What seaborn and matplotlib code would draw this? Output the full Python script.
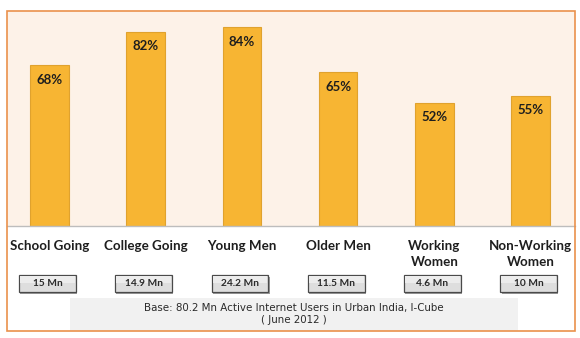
import matplotlib
matplotlib.use("Agg")
import matplotlib.pyplot as plt
import seaborn as sns
import pandas as pd
from matplotlib.patches import Rectangle, FancyBboxPatch
from matplotlib.transforms import blended_transform_factory

categories = ["School Going", "College Going", "Young Men", "Older Men",
              "Working\nWomen", "Non-Working\nWomen"]
values = [68, 82, 84, 65, 52, 55]
user_base = ["15 Mn", "14.9 Mn", "24.2 Mn", "11.5 Mn", "4.6 Mn", "10 Mn"]
base_note = "Base: 80.2 Mn Active Internet Users in Urban India, I-Cube\n( June 2012 )"

W, H = 580, 338
sns.set_theme(style="white")
plt.rcParams['font.family'] = ['Lato', 'DejaVu Sans']

fig = plt.figure(figsize=(W / 100, H / 100), dpi=100)
fig.patch.set_facecolor("white")

def fx(px):
    return px / W

def fy(py):
    return 1 - py / H

ax = fig.add_axes([fx(7), fy(226), fx(575) - fx(7), fy(11) - fy(226)])
ax.set_facecolor("#FDF2E8")

df = pd.DataFrame({"cat": categories, "val": values})
sns.barplot(data=df, x="cat", y="val", color="#F7B533", saturation=1,
            width=0.40, edgecolor="#E0A22E", linewidth=0.8, ax=ax)

ax.set_xlim(-0.44, 5.46)
ax.set_ylim(0, 90.7)
ax.set_xlabel("")
ax.set_ylabel("")
ax.set_yticks([])

for i, v in enumerate(values):
    ax.annotate(f"{v}%", xy=(i, v), xytext=(0, -10.6), textcoords="offset points",
                ha="center", va="center", fontsize=9.5, fontweight="bold",
                color="#1E1E1E")

ax.set_xticks(range(len(categories)))
ax.set_xticklabels(categories, fontsize=9.6, fontweight="bold", color="#1E1E1E",
                   linespacing=1.35)
ax.tick_params(axis="x", length=0, pad=10.2)
ax.set_xticks([i + 0.5 for i in range(len(categories) - 1)], minor=True)
ax.tick_params(axis="x", which="minor", length=4.5, color="#D0D0D0", width=0.8,
               direction="out")

for s in ["top", "left", "right"]:
    ax.spines[s].set_visible(False)
ax.spines["bottom"].set_color("#BDBDBD")
ax.spines["bottom"].set_linewidth(1.0)

# user-base buttons under each category
trans = blended_transform_factory(ax.transData, fig.transFigure)
bw = 0.59
for i, lbl in enumerate(user_base):
    xc = i - 0.02
    y0, y1 = fy(291.5), fy(275)
    fig.add_artist(FancyBboxPatch((xc - bw / 2 + 0.012, y0 - 0.006), bw, y1 - y0,
                                  boxstyle="square,pad=0", transform=trans,
                                  facecolor="#9A9A9A", edgecolor="none",
                                  clip_on=False, zorder=2))
    fig.add_artist(FancyBboxPatch((xc - bw / 2, y0), bw, y1 - y0,
                                  boxstyle="square,pad=0", transform=trans,
                                  facecolor="#DEDEDE", edgecolor="#4A4A4A",
                                  linewidth=0.9, clip_on=False, zorder=3))
    fig.add_artist(FancyBboxPatch((xc - bw / 2 + 0.01, (y0 + y1) / 2), bw - 0.02,
                                  (y1 - y0) / 2 - 0.004,
                                  boxstyle="square,pad=0", transform=trans,
                                  facecolor="#ECECEC", edgecolor="none",
                                  clip_on=False, zorder=3))
    fig.text(xc, (y0 + y1) / 2, lbl, transform=trans, ha="center",
             va="center", fontsize=7.3, color="#2A2A2A", zorder=4,
             fontweight="bold")

# base note box
fig.add_artist(Rectangle((fx(70), fy(331)), fx(518) - fx(70), fy(298) - fy(331),
                         transform=fig.transFigure, facecolor="#F1F1F1",
                         edgecolor="none", zorder=1))
fig.text(fx(294), fy(314), base_note, ha="center", va="center", fontsize=7.4,
         color="#2A2A2A", linespacing=1.3, zorder=2,
         family=["DejaVu Sans"])

# outer frame
fig.add_artist(Rectangle((fx(7), fy(331)), fx(575) - fx(7), fy(11) - fy(331),
                         transform=fig.transFigure, facecolor="none",
                         edgecolor="#EA914C", linewidth=1.2, zorder=5))

fig.savefig("out.png", dpi=100, facecolor="white")
